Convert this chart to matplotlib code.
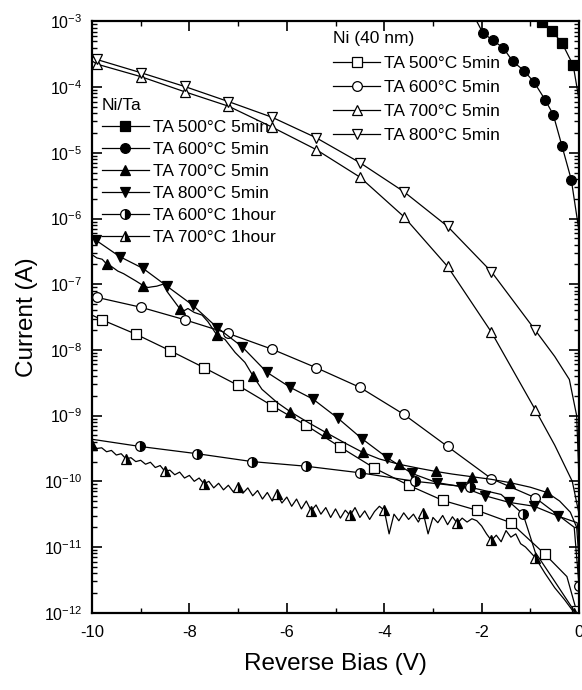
import matplotlib.pyplot as plt
import numpy as np
from matplotlib.ticker import MultipleLocator, LogLocator

plt.rcParams['font.family'] = ['Liberation Sans', 'DejaVu Sans']
plt.rcParams['mathtext.default'] = 'regular'
plt.rcParams['axes.unicode_minus'] = False

# --- Ni (40 nm), open markers: bias (V) and log10 of current (A)
ni500_v = [-10, -9.8, -9.1, -8.4, -7.7, -7.0, -6.3, -5.6, -4.9, -4.2, -3.5, -2.8, -2.1, -1.4, -0.7, -0.25, -0.05]
ni500_logi = [-7.47, -7.54, -7.76, -8.01, -8.27, -8.54, -8.85, -9.15, -9.48, -9.80, -10.06, -10.29, -10.44, -10.63,
              -11.11, -11.45, -11.98]
ni600_v = [-10, -9.9, -9.0, -8.1, -7.2, -6.3, -5.4, -4.5, -3.6, -2.7, -1.8, -0.9, -0.1, 0]
ni600_logi = [-7.19, -7.20, -7.35, -7.54, -7.75, -7.99, -8.27, -8.57, -8.98, -9.47, -9.96, -10.25, -10.70, -11.60]
ni700_v = [-10, -9.9, -9.0, -8.1, -7.2, -6.3, -5.4, -4.5, -3.6, -2.7, -1.8, -0.9, -0.5, -0.14, 0]
ni700_logi = [-3.60, -3.65, -3.84, -4.07, -4.29, -4.61, -4.95, -5.37, -5.97, -6.73, -7.73, -8.91, -9.45, -10.0, -10.5]
ni800_v = [-10, -9.9, -9.0, -8.1, -7.2, -6.3, -5.4, -4.5, -3.6, -2.7, -1.8, -0.9, -0.5, -0.2, -0.05, 0]
ni800_logi = [-3.53, -3.58, -3.78, -3.99, -4.22, -4.46, -4.77, -5.15, -5.59, -6.12, -6.81, -7.70, -8.10, -8.45,
              -9.0, -10.0]

# --- Ni/Ta, filled markers
nita500_v = [-1.0, -0.77, -0.55, -0.35, -0.12, 0]
nita500_logi = [-2.85, -3.01, -3.15, -3.33, -3.67, -4.2]
nita600_v = [-2.1, -1.98, -1.77, -1.56, -1.36, -1.13, -0.92, -0.70, -0.53, -0.35, -0.16, 0]
nita600_logi = [-3.0, -3.17, -3.29, -3.40, -3.61, -3.75, -3.93, -4.19, -4.42, -4.90, -5.41, -6.2]
nita700_v = [-10.0, -9.9, -9.79, -9.69, -9.6, -9.47, -9.35, -9.26, -9.1, -8.95, -8.85, -8.77, -8.67, -8.54, -8.46,
             -8.34, -8.19, -8.1, -8.03, -7.9, -7.74, -7.62, -7.43, -7.27, -7.06, -6.86, -6.69, -6.51, -6.2, -5.93,
             -5.55, -5.19, -4.8, -4.44, -4.1, -3.7, -3.3, -2.94, -2.6, -2.2, -1.8, -1.42, -1.0, -0.66, -0.4, -0.18,
             -0.05, 0]
nita700_logi = [-6.55, -6.60, -6.62, -6.70, -6.73, -6.80, -6.84, -6.88, -6.95, -7.02, -7.05, -7.04, -7.03, -7.00,
                -7.11, -7.23, -7.38, -7.40, -7.37, -7.43, -7.47, -7.57, -7.78, -7.84, -8.04, -8.19, -8.40, -8.60,
                -8.80, -8.94, -9.11, -9.26, -9.42, -9.56, -9.66, -9.74, -9.80, -9.85, -9.89, -9.93, -9.97, -10.02,
                -10.09, -10.17, -10.30, -10.47, -10.70, -11.20]
nita700_marks = [3, 9, 16, 22, 26, 29, 31, 33, 35, 37, 39, 41, 43]
nita800_v = [-10, -9.92, -9.43, -8.95, -8.46, -7.93, -7.43, -6.92, -6.41, -5.93, -5.46, -4.95, -4.46, -3.94, -3.43,
             -2.92, -2.42, -1.93, -1.44, -0.92, -0.43, -0.04, 0]
nita800_logi = [-6.29, -6.33, -6.58, -6.76, -7.03, -7.32, -7.66, -7.95, -8.34, -8.57, -8.75, -9.04, -9.35, -9.64,
                -9.88, -10.02, -10.08, -10.22, -10.32, -10.38, -10.53, -10.63, -10.9]
nita600h_v = [-10, -9.01, -7.84, -6.71, -5.61, -4.50, -3.37, -2.24, -1.6, -1.15, -0.90, -0.53, -0.12, 0]
nita600h_logi = [-9.36, -9.47, -9.58, -9.70, -9.77, -9.87, -10.00, -10.09, -10.20, -10.50, -11.08, -11.49, -11.95,
                 -12.05]
nita700h_v = [-10.0, -9.9, -9.8, -9.7, -9.6, -9.5, -9.4, -9.3, -9.2, -9.1, -9.0, -8.9, -8.8, -8.7, -8.6, -8.5,
              -8.4, -8.3, -8.2, -8.1, -8.0, -7.9, -7.8, -7.7, -7.6, -7.5, -7.4, -7.3, -7.2, -7.1, -7.0, -6.9, -6.8,
              -6.7, -6.6, -6.5, -6.4, -6.3, -6.2, -6.1, -6.0, -5.9, -5.8, -5.7, -5.6, -5.5, -5.4, -5.3, -5.2, -5.1,
              -5.0, -4.9, -4.8, -4.7, -4.6, -4.5, -4.4, -4.3, -4.2, -4.1, -4.0, -3.9, -3.8, -3.7, -3.6, -3.5, -3.4,
              -3.3, -3.2, -3.1, -3.0, -2.9, -2.8, -2.7, -2.6, -2.5, -2.4, -2.3, -2.2, -2.1, -2.0, -1.9, -1.8, -1.7,
              -1.6, -1.5, -1.4, -1.3, -1.2, -1.1, -1.0, -0.9, -0.7, -0.5, -0.3, -0.1]
nita700h_logi = [-9.45, -9.50, -9.49, -9.55, -9.53, -9.60, -9.58, -9.66, -9.64, -9.70, -9.68, -9.74, -9.71, -9.79,
                 -9.76, -9.85, -9.83, -9.90, -9.86, -9.95, -9.91, -10.00, -9.95, -10.04, -10.00, -10.10, -10.03,
                 -10.13, -10.06, -10.16, -10.09, -10.18, -10.10, -10.22, -10.14, -10.27, -10.17, -10.30, -10.20,
                 -10.33, -10.24, -10.38, -10.27, -10.42, -10.30, -10.45, -10.36, -10.50, -10.40, -10.55, -10.42,
                 -10.56, -10.44, -10.52, -10.40, -10.55, -10.45, -10.58, -10.46, -10.38, -10.44, -10.80, -10.50,
                 -10.60, -10.48, -10.58, -10.50, -10.62, -10.48, -10.80, -10.55, -10.63, -10.52, -10.66, -10.54,
                 -10.64, -10.56, -10.62, -10.57, -10.60, -10.68, -10.80, -10.90, -10.82, -10.92, -10.75, -10.85,
                 -10.80, -10.95, -11.00, -11.08, -11.16, -11.40, -11.62, -11.80, -12.0]
nita700h_marks = [0, 7, 15, 23, 30, 38, 45, 53, 60, 68, 75, 82, 91, 95]


def draw(ax, bias, logi, marker, fill, label, marks=None):
    current = 10.0 ** np.asarray(logi)
    if marks is None:
        marks = list(range(1, len(bias)))
    style = dict(color='black', lw=0.9, marker=marker, ms=7, mew=0.9, mec='black', markevery=marks, label=label)
    if fill == 'open':
        style.update(mfc='white')
    elif fill == 'half':
        style.update(fillstyle='right', mfc='black', mfcalt='white')
    else:
        style.update(mfc='black')
    return ax.plot(bias, current, **style)[0]


fig = plt.figure(figsize=(5.82, 6.90), dpi=100)
ax = fig.add_axes([0.158, 0.112, 0.837, 0.857])

ni_lines = [
    draw(ax, ni500_v, ni500_logi, 's', 'open', 'TA 500°C 5min', marks=list(range(1, 15)) + [16]),
    draw(ax, ni600_v, ni600_logi, 'o', 'open', 'TA 600°C 5min', marks=list(range(1, 12)) + [13]),
    draw(ax, ni700_v, ni700_logi, '^', 'open', 'TA 700°C 5min', marks=list(range(1, 12))),
    draw(ax, ni800_v, ni800_logi, 'v', 'open', 'TA 800°C 5min', marks=list(range(1, 12))),
]
nita_lines = [
    draw(ax, nita500_v, nita500_logi, 's', 'full', 'TA 500°C 5min', marks=[1, 2, 3, 4]),
    draw(ax, nita600_v, nita600_logi, 'o', 'full', 'TA 600°C 5min', marks=list(range(1, 11))),
    draw(ax, nita700_v, nita700_logi, '^', 'full', 'TA 700°C 5min', marks=nita700_marks),
    draw(ax, nita800_v, nita800_logi, 'v', 'full', 'TA 800°C 5min', marks=list(range(1, 21))),
    draw(ax, nita600h_v, nita600h_logi, 'o', 'half', 'TA 600°C 1hour', marks=[1, 2, 3, 4, 5, 6, 7, 9]),
    draw(ax, nita700h_v, nita700h_logi, '^', 'half', 'TA 700°C 1hour', marks=nita700h_marks),
]

ax.set_yscale('log')
ax.set_xlim(-10, 0)
ax.set_ylim(1e-12, 1e-3)
ax.xaxis.set_major_locator(MultipleLocator(2))
ax.xaxis.set_minor_locator(MultipleLocator(1))
ax.yaxis.set_major_locator(LogLocator(base=10, numticks=20))
ax.yaxis.set_minor_locator(LogLocator(base=10, subs=np.arange(2, 10), numticks=20))
ax.tick_params(which='both', direction='in', top=True, right=True, labelsize=12)
ax.tick_params(axis='y', labelsize=11.5)
ax.tick_params(which='major', length=7, width=1.2)
ax.tick_params(which='minor', length=3.5, width=1.0)
ax.tick_params(axis='x', pad=9)
ax.tick_params(axis='y', pad=7)
for s in ax.spines.values():
    s.set_linewidth(1.6)

ax.set_xlabel('Reverse Bias (V)', fontsize=17.5, labelpad=9)
ax.set_ylabel('Current (A)', fontsize=17.5, labelpad=4)

leg_ni = ax.legend(handles=ni_lines, title='Ni (40 nm)', loc='upper left', bbox_to_anchor=(0.495, 0.983),
                   frameon=False, fontsize=12.5, title_fontsize=12.5, alignment='left', borderpad=0,
                   borderaxespad=0, handlelength=2.7, handletextpad=0.25, labelspacing=0.52)
ax.add_artist(leg_ni)
ax.legend(handles=nita_lines, title='Ni/Ta', loc='upper left', bbox_to_anchor=(0.02, 0.871),
          frameon=False, fontsize=12.5, title_fontsize=12.5, alignment='left', borderpad=0,
          borderaxespad=0, handlelength=2.7, handletextpad=0.25, labelspacing=0.40)

fig.savefig('out.png', dpi=100)
